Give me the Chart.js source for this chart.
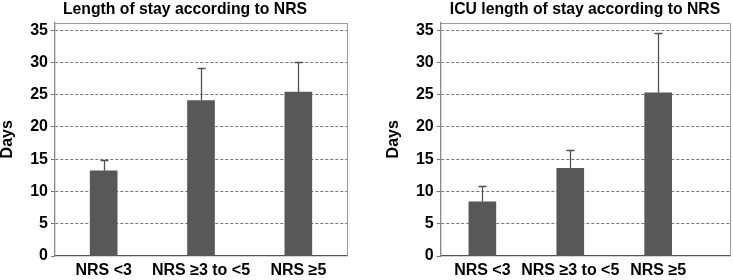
<!DOCTYPE html>
<html><head><meta charset="utf-8">
<script src="https://cdn.jsdelivr.net/npm/chart.js@4"></script>
<style>
html,body{margin:0;padding:0;background:#fff;}
#wrap{position:relative;width:733px;height:280px;overflow:hidden;}
#c1{position:absolute;left:0;top:0;}
#c2{position:absolute;left:370px;top:0;}
</style></head><body>
<div id="wrap"><canvas id="c1" width="370" height="280"></canvas><canvas id="c2" width="363" height="280"></canvas></div>
<script>
const categories = ['NRS <3', 'NRS \u22653 to <5', 'NRS \u22655'];
const losMean = [13.2, 24.1, 25.4];
const losUpper = [14.9, 29.2, 30.1];
const icuMean = [8.4, 13.6, 25.3];
const icuUpper = [10.9, 16.4, 34.5];
const yTicks = [0, 5, 10, 15, 20, 25, 30, 35];
const titles = ['Length of stay according to NRS', 'ICU length of stay according to NRS'];
const yTitle = 'Days';

const FAMILY = "'Liberation Sans', Arial, sans-serif";

const frame = {
  id: 'frame',
  beforeDatasetsDraw(chart) {
    const {ctx, chartArea: a} = chart;
    ctx.save();
    ctx.strokeStyle = '#9a9a9a';
    ctx.lineWidth = 1;
    ctx.beginPath();
    ctx.moveTo(a.left, Math.round(a.top) + 0.5);
    ctx.lineTo(Math.round(a.right) + 0.5, Math.round(a.top) + 0.5);
    ctx.lineTo(Math.round(a.right) + 0.5, a.bottom);
    ctx.stroke();
    ctx.restore();
  }
};

const topTitle = {
  id: 'topTitle',
  afterDraw(chart, args, opts) {
    const ctx = chart.ctx;
    ctx.save();
    ctx.fillStyle = '#000';
    ctx.font = 'bold ' + opts.size + 'px ' + FAMILY;
    ctx.textAlign = 'center';
    ctx.textBaseline = 'alphabetic';
    ctx.fillText(opts.text, opts.cx, opts.baseline);
    ctx.restore();
  }
};

const errorBars = {
  id: 'errorBars',
  afterDatasetsDraw(chart, args, opts) {
    const ctx = chart.ctx;
    const meta = chart.getDatasetMeta(0);
    const ys = chart.scales.y;
    ctx.save();
    ctx.strokeStyle = opts.color;
    ctx.lineWidth = opts.width;
    meta.data.forEach((bar, i) => {
      const yTop = Math.round(ys.getPixelForValue(opts.upper[i])) + 0.5;
      const x = Math.round(bar.x) + 0.5;
      ctx.beginPath();
      ctx.moveTo(x, bar.y);
      ctx.lineTo(x, yTop);
      ctx.moveTo(x - opts.cap / 2, yTop);
      ctx.lineTo(x + opts.cap / 2, yTop);
      ctx.stroke();
    });
    ctx.restore();
  }
};

function makeChart(id, means, upper, title, opt) {
  const tickFont = {family: FAMILY, size: 16, weight: 'bold'};
  return new Chart(document.getElementById(id), {
    type: 'bar',
    data: {
      datasets: [{
        data: means.map((v, i) => ({x: i, y: v})),
        backgroundColor: '#585858',
        borderWidth: 0,
        barThickness: 27
      }]
    },
    options: {
      responsive: false,
      animation: false,
      events: [],
      layout: {padding: {left: opt.padLeft, right: opt.padRight, top: 22.5, bottom: 0}},
      plugins: {
        legend: {display: false},
        tooltip: {enabled: false},
        title: {display: false},
        topTitle: {text: title, cx: opt.titleX, baseline: 14, size: 15.75},
        errorBars: {upper: upper, color: '#505050', width: 1.3, cap: 8}
      },
      scales: {
        x: {
          type: 'linear', min: opt.xMin, max: opt.xMax, offset: false,
          afterBuildTicks: s => { s.ticks = categories.map((c, i) => ({value: i})); },
          ticks: {callback: v => categories[v], color: '#000', font: tickFont, padding: 5, autoSkip: false, maxRotation: 0},
          grid: {display: false, drawTicks: false, offset: false},
          border: {color: '#555', width: 1.3},
          afterFit: s => { s.height = 24; }
        },
        y: {
          min: 0, max: 36.2,
          afterBuildTicks: s => { s.ticks = yTicks.map(v => ({value: v})); },
          ticks: {color: '#000', font: tickFont, padding: 3},
          grid: {
            color: c => (c.tick && c.tick.value === 0) ? 'rgba(0,0,0,0)' : '#777',
            tickColor: '#777', tickLength: 4, lineWidth: 1
          },
          border: {color: '#888', width: 1.3, dash: [3, 2]},
          title: {display: true, text: yTitle, color: '#000', font: {family: FAMILY, size: 16, weight: 'bold', lineHeight: 1}, padding: 0},
          afterFit: s => { s.width = opt.yWidth; }
        }
      }
    },
    plugins: [frame, errorBars, topTitle]
  });
}

makeChart('c1', losMean, losUpper, titles[0], {padLeft: 0, padRight: 23, yWidth: 55, xMin: -0.5, xMax: 2.5, titleX: 185});
makeChart('c2', icuMean, icuUpper, titles[1], {padLeft: 15.5, padRight: 3, yWidth: 55.2, xMin: -0.474, xMax: 2.817, titleX: 215});
</script>
</body></html>
